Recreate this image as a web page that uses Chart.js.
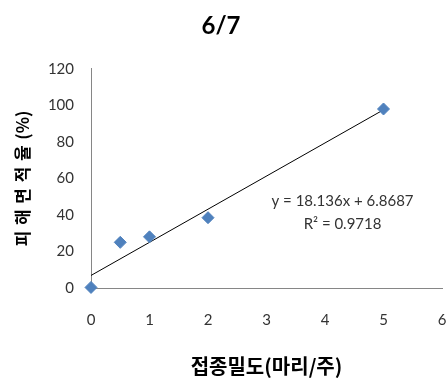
<!DOCTYPE html>
<html>
  <head>
    <meta charset="utf-8" />
    <title>6/7</title>
    <script src="https://cdn.jsdelivr.net/npm/chart.js@4/dist/chart.umd.min.js"></script>
    <style>
      body { margin: 0; background: #fff; }
    </style>
  </head>
  <body>
    <canvas id="myChart" width="448" height="381"></canvas>
    <script>
      const density = [0, 0.5, 1, 2, 5];
      const damageRate = [0.3, 25, 28, 38.5, 98];
      const slope = 18.136;
      const intercept = 6.8687;
      const trendX = [0, 5];
      const eqLines = ["y = 18.136x + 6.8687", "R\u00b2 = 0.9718"];

      const numFont = "Lato, 'Open Sans', sans-serif";
      const krFont = "'Noto Sans CJK KR', sans-serif";

      // equation label placed like the Excel trendline label
      const eqLabel = {
        id: "eqLabel",
        afterDatasetsDraw(chart) {
          const { ctx, scales } = chart;
          const cx = scales.x.getPixelForValue(4.3);
          const cy = scales.y.getPixelForValue(47.6);
          ctx.save();
          ctx.font = "15px " + numFont;
          ctx.fillStyle = "#333";
          ctx.textAlign = "center";
          ctx.textBaseline = "middle";
          ctx.fillText(eqLines[0], cx, cy);
          ctx.fillText(eqLines[1], cx, cy + 23);
          ctx.restore();
        },
      };

      const data = {
        datasets: [
          {
            type: "scatter",
            data: density.map((x, i) => ({ x: x, y: damageRate[i] })),
            backgroundColor: "#4F81BD",
            borderColor: "#4F81BD",
            pointStyle: "rectRot",
            pointRadius: 6,
            clip: false,
            order: 1,
          },
          {
            type: "line",
            data: trendX.map((x) => ({ x: x, y: slope * x + intercept })),
            borderColor: "#000",
            borderWidth: 1,
            pointRadius: 0,
            fill: false,
            clip: false,
            order: 2,
          },
        ],
      };

      const config = {
        type: "scatter",
        data: data,
        options: {
          responsive: false,
          animation: false,
          layout: { autoPadding: false, padding: { left: 0, right: 6, top: 0, bottom: 0 } },
          plugins: {
            legend: { display: false },
            tooltip: { enabled: false },
            title: {
              display: true,
              text: "6/7",
              color: "#000",
              font: { family: numFont, size: 24, weight: "bold" },
              padding: { top: 12, bottom: 28 },
            },
          },
          scales: {
            x: {
              type: "linear",
              min: 0,
              max: 6,
              afterFit: (s) => {
                s.height = 93;
                s.paddingLeft = 0;
                s.paddingRight = 0;
              },
              ticks: {
                stepSize: 1,
                color: "#333",
                padding: 23,
                font: { family: numFont, size: 15 },
              },
              grid: { display: false, drawTicks: false },
              border: { display: true, color: "#868686" },
              title: {
                display: true,
                text: "접종밀도(마리/주)",
                color: "#000",
                font: { family: krFont, size: 20, weight: "bold" },
                padding: { top: 0, bottom: 3 },
              },
            },
            y: {
              min: 0,
              max: 120,
              afterFit: (s) => { s.width = 91; },
              ticks: {
                stepSize: 20,
                color: "#333",
                padding: 17,
                font: { family: numFont, size: 15 },
              },
              grid: { display: false, drawTicks: false },
              border: { display: true, color: "#868686" },
              title: {
                display: true,
                // Excel label is widely spaced, so add small gaps
                text: "피\u2004해\u2004면\u2004적\u2004율\u2004(%)",
                color: "#000",
                font: { family: krFont, size: 17, weight: "bold" },
                padding: { top: 12, bottom: 0 },
              },
            },
          },
        },
        plugins: [eqLabel],
      };

      const ctx = document.getElementById("myChart");
      const myChart = new Chart(ctx, config);
    </script>
  </body>
</html>
